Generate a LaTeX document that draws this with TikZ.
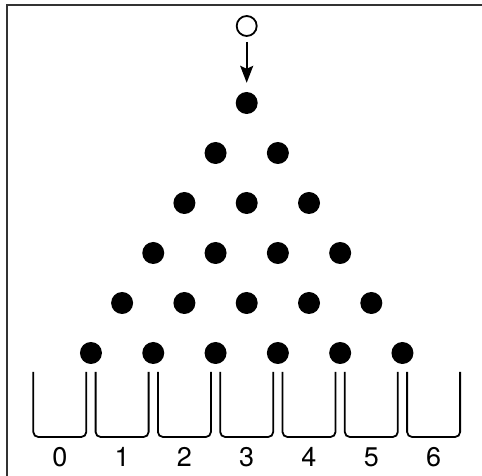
\documentclass[tikz,border=0pt]{standalone}
\usepackage{fontspec}
\setmainfont{TeX Gyre Heros}
\usetikzlibrary{arrows.meta}

\begin{document}
\begin{tikzpicture}[x=1pt,y=1pt,
  peg/.style={circle,fill=black,inner sep=0pt,minimum size=22pt},
  ball/.style={circle,draw,line width=1.8pt,inner sep=0pt,minimum size=20pt},
  bin/.style={line width=1.8pt,rounded corners=5pt},
  binlabel/.style={font=\fontsize{27}{27}\selectfont}]
  \useasboundingbox (0,0) rectangle (482,476);
  % frame
  \draw[line width=2pt,black!80] (6.5,0) -- (6.5,471) -- (482,471);
  % pegs: row r has r+1 pegs
  \foreach \row in {0,...,5}
    \foreach \col in {0,...,\row}
      \node[peg] (peg-\row-\col) at ({246.7+(\col-\row/2)*62.3},{373-50*\row}) {};
  % falling ball
  \node[ball] (ball) at (246.7,450) {};
  \draw[line width=1.8pt,-{Stealth[length=17pt,width=13pt,inset=3pt]},
    shorten <=5pt,shorten >=9pt] (ball) -- (peg-0-0);
  % bins and their numbers
  \foreach \k in {0,...,6} {
    \pgfmathsetmacro\bx{59.8+62.3*\k}
    \draw[bin] ({\bx-26.5},104) |- ({\bx+26.5},39) -- ({\bx+26.5},104);
    \node[binlabel] (label-\k) at (\bx,19) {\k};
  }
\end{tikzpicture}
\end{document}
